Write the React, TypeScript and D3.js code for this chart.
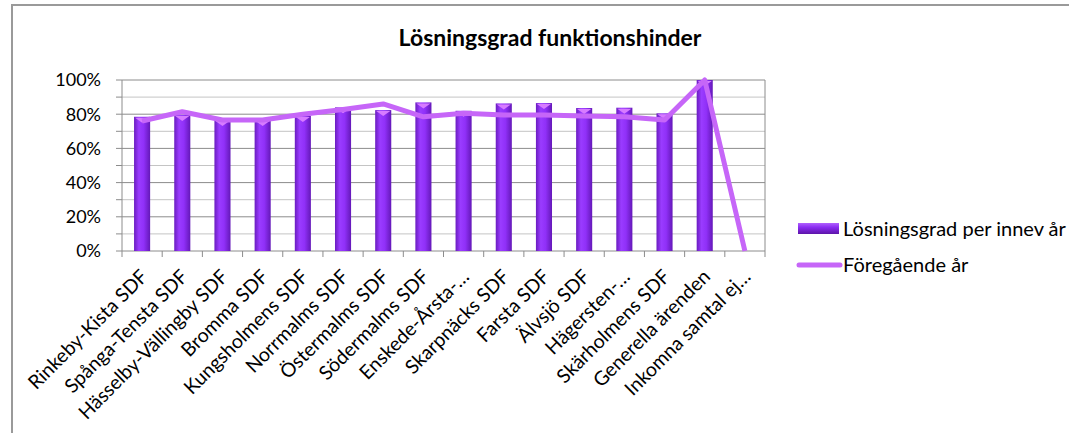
import React, { useEffect, useRef } from 'react';
import * as d3 from 'd3';

const categories = [
  'Rinkeby-Kista SDF',
  'Spånga-Tensta SDF',
  'Hässelby-Vällingby SDF',
  'Bromma SDF',
  'Kungsholmens SDF',
  'Norrmalms SDF',
  'Östermalms SDF',
  'Södermalms SDF',
  'Enskede-Årsta-…',
  'Skarpnäcks SDF',
  'Farsta SDF',
  'Älvsjö SDF',
  'Hägersten-…',
  'Skärholmens SDF',
  'Generella ärenden',
  'Inkomna samtal ej…'
];

// Lösningsgrad per innev år
const currentYear = [78.5, 79.5, 76.6, 76.6, 79, 84, 82.4, 86.9, 82, 86.3, 86.5, 83.6, 83.8, 80.5, 100, 0];
// Föregående år
const previousYear = [76, 81.4, 76.6, 76.6, 80, 82.8, 86, 78.5, 80.5, 79.5, 79.5, 79, 78.5, 76.6, 100, 0];

const yTicks = [0, 20, 40, 60, 80, 100];
const minorTicks = [10, 30, 50, 70, 90];

const seriesNames = ['Lösningsgrad per innev år', 'Föregående år'];

const FONT = 'Lato, "Open Sans", sans-serif';

const App = () => {
  const svgRef = useRef<SVGSVGElement>(null);

  useEffect(() => {
    const svg = d3.select(svgRef.current);
    svg.selectAll('*').remove();

    const width = 1069;
    const height = 433;
    const left = 122, right = 765, top = 80, bottom = 251;

    svg.attr('width', width).attr('height', height);

    // Gradientes
    const defs = svg.append('defs');
    const barGrad = defs.append('linearGradient').attr('id', 'barGrad')
      .attr('x1', '0%').attr('x2', '100%').attr('y1', '0%').attr('y2', '0%');
    barGrad.append('stop').attr('offset', '0%').attr('stop-color', '#6a1cc0');
    barGrad.append('stop').attr('offset', '30%').attr('stop-color', '#9a3cff');
    barGrad.append('stop').attr('offset', '60%').attr('stop-color', '#9030f8');
    barGrad.append('stop').attr('offset', '100%').attr('stop-color', '#6418b8');

    const legGrad = defs.append('linearGradient').attr('id', 'legGrad')
      .attr('x1', '0%').attr('x2', '0%').attr('y1', '0%').attr('y2', '100%');
    legGrad.append('stop').attr('offset', '0%').attr('stop-color', '#b060ff');
    legGrad.append('stop').attr('offset', '40%').attr('stop-color', '#8a2cf0');
    legGrad.append('stop').attr('offset', '100%').attr('stop-color', '#5c14a8');

    // Marco
    svg.append('rect')
      .attr('x', 12).attr('y', 5)
      .attr('width', width).attr('height', height)
      .attr('fill', '#fff')
      .attr('stroke', '#9a9a9a').attr('stroke-width', 2);

    const x = d3.scaleBand().domain(categories).range([left, right]).padding(0);
    const y = d3.scaleLinear().domain([0, 100]).range([bottom, top]);

    // Título
    svg.append('text')
      .attr('x', 550).attr('y', 46)
      .attr('text-anchor', 'middle')
      .attr('font-family', FONT).attr('font-weight', 'bold').attr('font-size', 23)
      .attr('fill', '#000')
      .text('Lösningsgrad funktionshinder');

    // Cuadrícula
    const grid = svg.append('g');
    minorTicks.forEach(t => {
      grid.append('line')
        .attr('x1', left).attr('x2', right)
        .attr('y1', y(t)).attr('y2', y(t))
        .attr('stroke', '#c4c4c4').attr('stroke-width', 1);
    });
    yTicks.forEach(t => {
      grid.append('line')
        .attr('x1', left - 6).attr('x2', right)
        .attr('y1', y(t)).attr('y2', y(t))
        .attr('stroke', '#8c8c8c').attr('stroke-width', 1);
    });
    minorTicks.forEach(t => {
      grid.append('line')
        .attr('x1', left - 6).attr('x2', left)
        .attr('y1', y(t)).attr('y2', y(t))
        .attr('stroke', '#8c8c8c');
    });

    // Ejes
    svg.append('line')
      .attr('x1', left).attr('x2', left).attr('y1', top).attr('y2', bottom + 6)
      .attr('stroke', '#8c8c8c');
    svg.append('line')
      .attr('x1', right).attr('x2', right).attr('y1', top).attr('y2', bottom + 6)
      .attr('stroke', '#8c8c8c');
    categories.forEach((c, i) => {
      if (i === 0) return;
      svg.append('line')
        .attr('x1', x(c)!).attr('x2', x(c)!)
        .attr('y1', bottom).attr('y2', bottom + 6)
        .attr('stroke', '#8c8c8c');
    });

    // Etiquetas eje Y
    yTicks.forEach(t => {
      svg.append('text')
        .attr('x', 101).attr('y', y(t))
        .attr('dy', '0.35em')
        .attr('text-anchor', 'end')
        .attr('font-family', FONT).attr('font-size', 18)
        .attr('fill', '#000')
        .text(`${t}%`);
    });

    // Barras
    const bw = x.bandwidth() * 0.4;
    const bars = svg.append('g');
    categories.forEach((c, i) => {
      const v = currentYear[i];
      if (v <= 0) return;
      const cx = x(c)! + x.bandwidth() / 2;
      const yt = y(v);
      bars.append('rect')
        .attr('x', cx - bw / 2).attr('y', yt)
        .attr('width', bw).attr('height', bottom - yt)
        .attr('fill', 'url(#barGrad)');
      bars.append('path')
        .attr('d', `M${cx - bw / 2 + 1},${yt + 1} L${cx + bw / 2 - 1},${yt + 1} L${cx},${yt + 6} Z`)
        .attr('fill', '#d77cff');
    });

    // Línea año anterior
    const line = d3.line<number>()
      .x((d, i) => x(categories[i])! + x.bandwidth() / 2)
      .y(d => y(d));
    svg.append('path')
      .datum(previousYear)
      .attr('d', line)
      .attr('fill', 'none')
      .attr('stroke', '#c666f8')
      .attr('stroke-width', 5)
      .attr('stroke-linejoin', 'round');

    // Etiquetas eje X
    categories.forEach(c => {
      const cx = x(c)! + x.bandwidth() / 2;
      svg.append('text')
        .attr('transform', `translate(${cx + 2},${bottom + 22}) rotate(-45)`)
        .attr('text-anchor', 'end')
        .attr('dy', '0.35em')
        .attr('font-family', FONT).attr('font-size', 19.5)
        .attr('fill', '#000')
        .text(c);
    });

    // Leyenda
    const legend = svg.append('g');
    legend.append('rect')
      .attr('x', 798).attr('y', 223).attr('width', 41).attr('height', 11)
      .attr('fill', 'url(#legGrad)');
    legend.append('text')
      .attr('x', 843).attr('y', 229).attr('dy', '0.35em')
      .attr('font-family', FONT).attr('font-size', 20)
      .text(seriesNames[0]);
    legend.append('line')
      .attr('x1', 799).attr('x2', 840).attr('y1', 265).attr('y2', 265)
      .attr('stroke', '#c666f8').attr('stroke-width', 5).attr('stroke-linecap', 'round');
    legend.append('text')
      .attr('x', 843).attr('y', 265).attr('dy', '0.35em')
      .attr('font-family', FONT).attr('font-size', 20)
      .text(seriesNames[1]);
  }, []);

  return (
    <div style={{ position: 'absolute', left: 0, top: 0, width: 1069, height: 433, overflow: 'hidden' }}>
      <svg ref={svgRef} style={{ display: 'block' }} />
    </div>
  );
};

export default App;
